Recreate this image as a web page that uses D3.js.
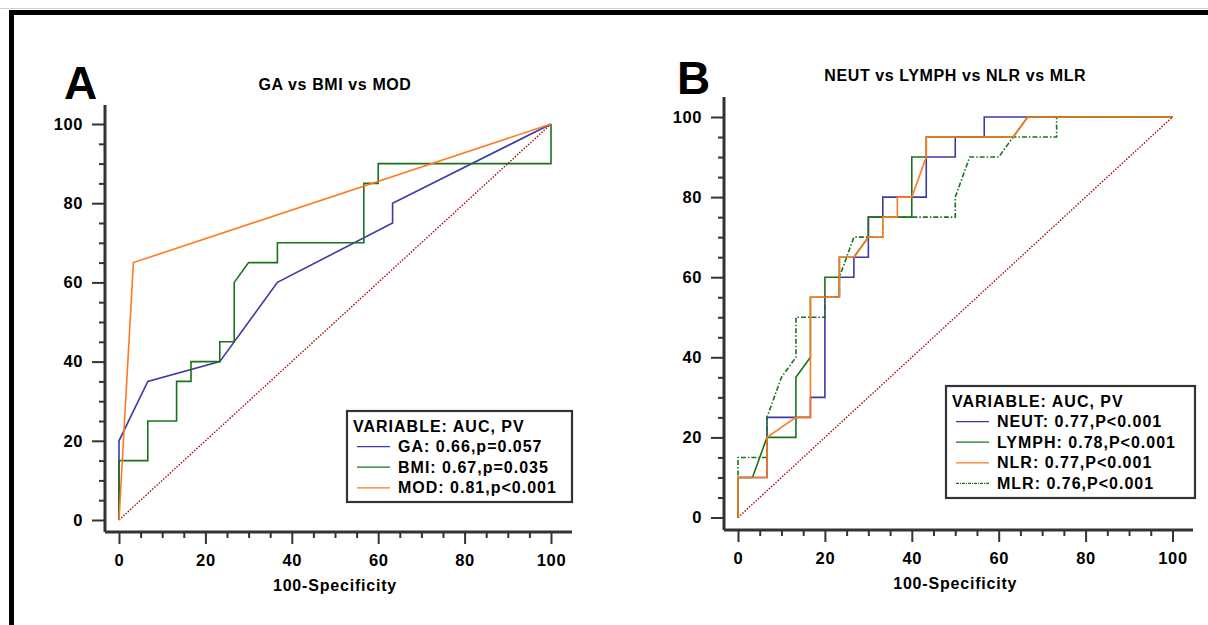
<!DOCTYPE html>
<html>
<head>
<meta charset="utf-8">
<script src="https://cdn.jsdelivr.net/npm/d3@7"></script>
<style>
  body { margin: 0; background: #fff; }
  svg text { font-family: "Liberation Sans", Arial, sans-serif; font-weight: bold; fill: #000; }
</style>
</head>
<body>
<svg id="mainSvg" width="1208" height="625"></svg>
<script>
// tick labels
var majorTicks = [0, 20, 40, 60, 80, 100];
var minorTicks = [5, 10, 15, 25, 30, 35, 45, 50, 55, 65, 70, 75, 85, 90, 95];

// panel A : [100-specificity, sensitivity]
var legendA = ["GA: 0.66,p=0.057", "BMI: 0.67,p=0.035", "MOD: 0.81,p<0.001"];
var gaRoc = [[0,0],[0,20],[6.67,35],[23.33,40],[36.67,60],[63.33,75],[63.33,80],[100,100]];
var bmiRoc = [[0,0],[0,15],[6.67,15],[6.67,25],[13.33,25],[13.33,35],[16.67,35],[16.67,40],
  [23.33,40],[23.33,45],[26.67,45],[26.67,60],[30,65],[36.67,65],[36.67,70],[56.67,70],
  [56.67,85],[60,85],[60,90],[100,90],[100,100]];
var modRoc = [[0,0],[3.33,65],[100,100]];

// panel B
var legendB = ["NEUT: 0.77,P<0.001", "LYMPH: 0.78,P<0.001", "NLR: 0.77,P<0.001", "MLR: 0.76,P<0.001"];
var neutRoc = [[0,0],[0,10],[6.67,10],[6.67,25],[16.67,25],[16.67,30],[20,30],[20,55],[23.33,55],
  [23.33,60],[26.67,60],[26.67,65],[30,65],[30,75],[33.33,75],[33.33,80],[43.33,80],[43.33,90],
  [50,90],[50,95],[56.67,95],[56.67,100],[100,100]];
var lymphRoc = [[0,0],[0,10],[3.33,10],[6.67,20],[13.33,20],[13.33,35],[16.67,40],[16.67,55],
  [20,55],[20,60],[23.33,60],[23.33,65],[26.67,65],[30,70],[30,75],[40,75],[40,90],[43.33,90],
  [43.33,95],[63.33,95],[66.67,100],[100,100]];
var nlrRoc = [[0,0],[0,10],[6.67,10],[6.67,20],[13.33,25],[16.67,25],[16.67,55],[23.33,55],
  [23.33,65],[26.67,65],[30,70],[33.33,70],[33.33,75],[36.67,75],[36.67,80],[40,80],[43.33,90],
  [43.33,95],[63.33,95],[66.67,100],[100,100]];
var mlrRoc = [[0,0],[0,15],[6.67,15],[6.67,25],[10,35],[13.33,40],[13.33,50],[20,50],[20,55],
  [23.33,55],[23.33,60],[26.67,70],[33.33,70],[33.33,75],[50,75],[50,80],[53.33,90],[60,90],
  [63.33,95],[73.33,95],[73.33,100],[100,100]];
var chanceLine = [[0,0],[100,100]];

var blue = "#3b3ba6", green = "#18741a", orange = "#ff7a1f", darkRed = "#a01010";

var svg = d3.select("#mainSvg");

// outer frame
svg.append("line").attr("x1", 0).attr("x2", 1208).attr("y1", 8.5).attr("y2", 8.5)
  .attr("stroke", "#d0d0d0").attr("stroke-width", 1);
svg.append("rect").attr("x", 9).attr("y", 10).attr("width", 1199).attr("height", 5).attr("fill", "#000");
svg.append("rect").attr("x", 9).attr("y", 10).attr("width", 5).attr("height", 615).attr("fill", "#000");

var valueline = function(x, y) {
  return d3.line().x(function(d) { return x(d[0]); }).y(function(d) { return y(d[1]); });
};

function drawPanel(p) {
  var x = d3.scaleLinear().domain([0, 100]).range([p.x0, p.x1]);
  var y = d3.scaleLinear().domain([0, 100]).range([p.y0, p.y1]);
  var g = svg.append("g").attr("class", "panel");

  // minor ticks
  g.append("g").attr("transform", "translate(0," + p.axisY + ")")
    .call(d3.axisBottom(x).tickValues(minorTicks).tickSize(6).tickFormat(""))
    .call(function(a) { a.select(".domain").remove(); });
  g.append("g").attr("transform", "translate(" + p.axisX + ",0)")
    .call(d3.axisLeft(y).tickValues(minorTicks).tickSize(6).tickFormat(""))
    .call(function(a) { a.select(".domain").remove(); });

  // major ticks
  var xa = g.append("g").attr("transform", "translate(0," + p.axisY + ")")
    .call(d3.axisBottom(x).tickValues(majorTicks).tickSize(12).tickPadding(10));
  var ya = g.append("g").attr("transform", "translate(" + p.axisX + ",0)")
    .call(d3.axisLeft(y).tickValues(majorTicks).tickSize(13).tickPadding(9));
  [xa, ya].forEach(function(a) {
    a.select(".domain").remove();
    a.selectAll("text").attr("font-size", 16.5).style("letter-spacing", "0.6px")
      .attr("font-family", null);
  });
  g.selectAll(".tick line").attr("stroke", "#333").attr("stroke-width", 2);

  // axis lines (offset from the origin)
  g.append("line").attr("x1", p.axisX).attr("x2", p.axisX).attr("y1", p.axisTop).attr("y2", p.axisY)
    .attr("stroke", "#333").attr("stroke-width", 3);
  g.append("line").attr("x1", p.axisX).attr("x2", p.axisRight).attr("y1", p.axisY).attr("y2", p.axisY)
    .attr("stroke", "#333").attr("stroke-width", 3);

  g.append("text").attr("x", (p.x0 + p.x1) / 2).attr("y", p.axisY + 59)
    .attr("text-anchor", "middle").attr("font-size", 16).style("letter-spacing", "0.8px")
    .text("100-Specificity");

  g.append("text").attr("x", (p.x0 + p.x1) / 2).attr("y", p.titleY)
    .attr("text-anchor", "middle").attr("font-size", 16).style("letter-spacing", "0.6px")
    .text(p.title);
  g.append("text").attr("x", p.letterX).attr("y", p.letterY)
    .attr("font-size", 46).text(p.letter);

  // reference diagonal
  g.append("path").attr("d", valueline(x, y)(chanceLine))
    .attr("fill", "none").attr("stroke", darkRed).attr("stroke-width", 1.4)
    .attr("stroke-dasharray", "1.5,1.5");

  p.series.forEach(function(s) {
    g.append("path").attr("class", "line").attr("d", valueline(x, y)(s.data))
      .attr("fill", "none").attr("stroke", s.color).attr("stroke-width", 1.6)
      .attr("stroke-dasharray", s.dash || null);
  });

  // legend, in its own order
  var L = p.legend;
  var lg = g.append("g").attr("transform", "translate(" + L.x + "," + L.y + ")");
  lg.append("rect").attr("width", L.w).attr("height", L.h)
    .attr("fill", "#fff").attr("stroke", "#333").attr("stroke-width", 2.2);
  lg.append("text").attr("x", 6).attr("y", 20.5).attr("font-size", 16)
    .style("letter-spacing", "1px").text("VARIABLE: AUC, PV");
  var items = p.series.slice().sort(function(a, b) { return a.order - b.order; });
  items.forEach(function(s, i) {
    var by = 20.5 + L.step * (i + 1);
    lg.append("line").attr("x1", 10).attr("x2", 43).attr("y1", by - 5.5).attr("y2", by - 5.5)
      .attr("stroke", s.color).attr("stroke-width", 1.2).attr("stroke-dasharray", s.dash ? "3,1,1,1" : null);
    lg.append("text").attr("x", 51).attr("y", by).attr("font-size", 16)
      .style("letter-spacing", "1px").text(s.label);
  });
}

drawPanel({
  x0: 119, x1: 551, y0: 520, y1: 124,
  axisX: 105, axisY: 532, axisTop: 105, axisRight: 572,
  title: "GA vs BMI vs MOD", titleY: 90, letter: "A", letterX: 64, letterY: 99,
  legend: { x: 347, y: 411, w: 225, h: 91, step: 20.6 },
  series: [
    { data: gaRoc, color: blue, label: legendA[0], order: 0 },
    { data: bmiRoc, color: green, label: legendA[1], order: 1 },
    { data: modRoc, color: orange, label: legendA[2], order: 2 }
  ]
});

drawPanel({
  x0: 738, x1: 1172.5, y0: 517.5, y1: 117,
  axisX: 724, axisY: 530, axisTop: 97, axisRight: 1193,
  title: "NEUT vs LYMPH vs NLR vs MLR", titleY: 81, letter: "B", letterX: 677, letterY: 94,
  legend: { x: 946, y: 386, w: 249, h: 112, step: 20.6 },
  series: [
    { data: neutRoc, color: blue, label: legendB[0], order: 0 },
    { data: lymphRoc, color: green, label: legendB[1], order: 1 },
    { data: mlrRoc, color: green, dash: "5,2,1.5,2", label: legendB[3], order: 3 },
    { data: nlrRoc, color: orange, label: legendB[2], order: 2 }
  ]
});
</script>
</body>
</html>
